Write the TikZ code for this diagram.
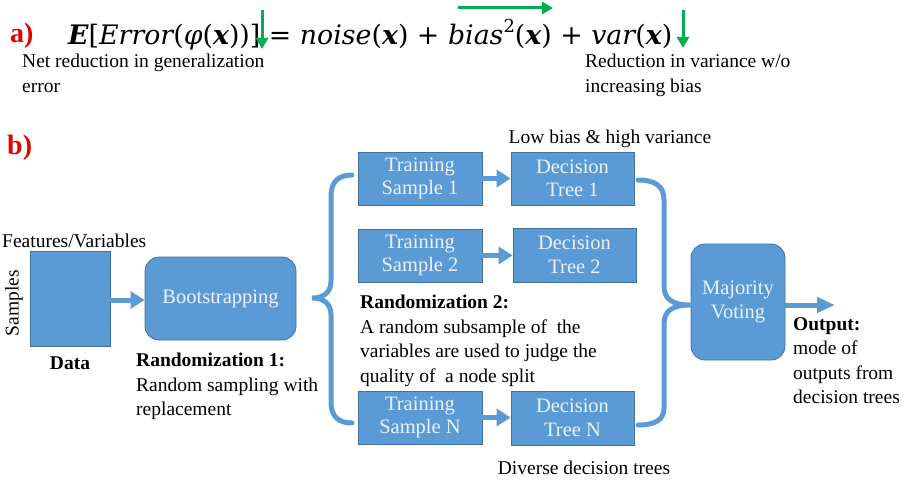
\documentclass[tikz,border=0pt]{standalone}
\usepackage{fontspec}
\setmainfont{Liberation Serif}
\newfontfamily\eqfont{DejaVu Serif}
\usetikzlibrary{arrows.meta}
\definecolor{boxblue}{RGB}{91,155,213}
\definecolor{boxedge}{RGB}{65,113,156}
\definecolor{boxtext}{RGB}{235,242,250}
\definecolor{arrgreen}{RGB}{0,176,80}
\definecolor{lblred}{RGB}{230,0,0}
\newcommand{\bx}{{\bfseries\itshape x}}
\tikzset{
  x=1pt, y=-1pt,
  blk/.style={draw=boxedge, line width=0.8pt, fill=boxblue, text=boxtext, align=center, inner sep=0pt,
    font=\fontsize{20.5}{23.5}\selectfont},
  rblk/.style={blk, rounded corners=14pt},
  lbl/.style={align=left, inner sep=0pt, font=\fontsize{19.5}{24.5}\selectfont},
  fat/.style={draw=boxblue, line width=5pt, -{Triangle[length=14pt,width=17pt]}},
  brace/.style={draw=boxblue, line width=5pt, line cap=round},
  garrow/.style={draw=arrgreen, line width=3pt, -{Triangle[length=11pt,width=12pt]}},
  tag/.style={text=lblred, inner sep=0pt, font=\fontsize{28}{30}\selectfont\bfseries}
}
\begin{document}
\begin{tikzpicture}
\useasboundingbox (0,0) rectangle (910,484);

% ---- part a
\node[tag, anchor=west] (ta) at (10,36) {a)};
\node[inner sep=0pt, anchor=base west] (eq) at (68,45)
  {\resizebox{604pt}{!}{\eqfont\fontsize{24}{26}\selectfont
   {\bfseries\itshape E}[{\itshape Error}({\itshape φ}(\bx))] = {\itshape noise}(\bx) + {\itshape bias}\raisebox{0.45em}{\fontsize{16}{16}\selectfont 2}(\bx) + {\itshape var}(\bx)}};
\draw[garrow] (262,10) -- (262,49);
\draw[garrow] (458,8) -- (553,8);
\draw[garrow] (683,10) -- (683,48);
\node[lbl, anchor=north west] (na) at (22,54) {Net reduction in generalization\\error};
\node[lbl, anchor=north west] (nb) at (585,54) {Reduction in variance w/o\\increasing bias};

% ---- part b
\node[tag, anchor=west] (tb) at (7,148) {b)};

\node[blk, minimum width=80pt, minimum height=95pt] (data) at (70,298.5) {};
\node[lbl, anchor=south west] (feat) at (2,248) {Features/Variables};
\node[lbl, rotate=90] (samp) at (14,303) {Samples};
\node[lbl, font=\fontsize{19.5}{24.5}\selectfont\bfseries] (dlab) at (70,363) {Data};

\node[rblk, minimum width=151pt, minimum height=83pt] (boot) at (220.5,298.5) {Bootstrapping};
\node[lbl, anchor=north west] (r1) at (136,353)
  {\textbf{Randomization 1:}\\Random sampling with\\replacement};

\node[blk, minimum width=124pt, minimum height=53pt] (ts1) at (420,178.5) {Training\\Sample 1};
\node[blk, minimum width=123pt, minimum height=53pt] (dt1) at (572.5,178.5) {Decision\\Tree 1};
\node[blk, minimum width=124pt, minimum height=53pt] (ts2) at (420,255.5) {Training\\Sample 2};
\node[blk, minimum width=123pt, minimum height=54pt] (dt2) at (574.5,255) {Decision\\Tree 2};
\node[blk, minimum width=124pt, minimum height=53pt] (tsn) at (420,417.5) {Training\\Sample N};
\node[blk, minimum width=123pt, minimum height=54pt] (dtn) at (572.5,418) {Decision\\Tree N};

\node[lbl, anchor=north west] (r2) at (360,295)
  {\textbf{Randomization 2:}\\A random subsample of\ \ the\\variables are used to judge the\\quality of\ \ a node split};

\node[lbl] (low) at (610,139) {Low bias \& high variance};
\node[lbl] (div) at (584,468) {Diverse decision trees};

\node[rblk, minimum width=94pt, minimum height=116pt] (mv) at (738,302) {Majority\\Voting};
\coordinate (out) at (835,305);
\node[lbl, anchor=north west] (olab) at (793,317)
  {\textbf{Output:}\\mode of\\outputs from\\decision trees};

% arrows
\draw[fat] (data.east |- 0,300) -- (boot.west |- 0,300);
\draw[fat] (ts1) -- (dt1);
\draw[fat] (ts2) -- (dt2.west |- ts2);
\draw[fat] (tsn) -- (dtn.west |- tsn);
\draw[fat, -{Triangle[length=18pt,width=15pt]}] (mv.east |- out) -- (out);

% braces
\coordinate (lbtip) at (312,298);
\draw[brace] (352,175) .. controls (338,175) and (331,182) .. (331,196)
  -- (331,281) .. controls (331,292) and (324,298) .. (lbtip)
  .. controls (324,298) and (331,304) .. (331,315)
  -- (331,402) .. controls (331,416) and (338,423) .. (352,423);
\coordinate (rbtip) at (mv.west |- 0,305);
\draw[brace] (638,180) .. controls (655,180) and (664,186) .. (664,200)
  -- (664,286) .. controls (664,299) and (672,305) .. (rbtip)
  .. controls (672,305) and (664,311) .. (664,324)
  -- (664,408) .. controls (664,420) and (655,425) .. (638,425);
\end{tikzpicture}
\end{document}
